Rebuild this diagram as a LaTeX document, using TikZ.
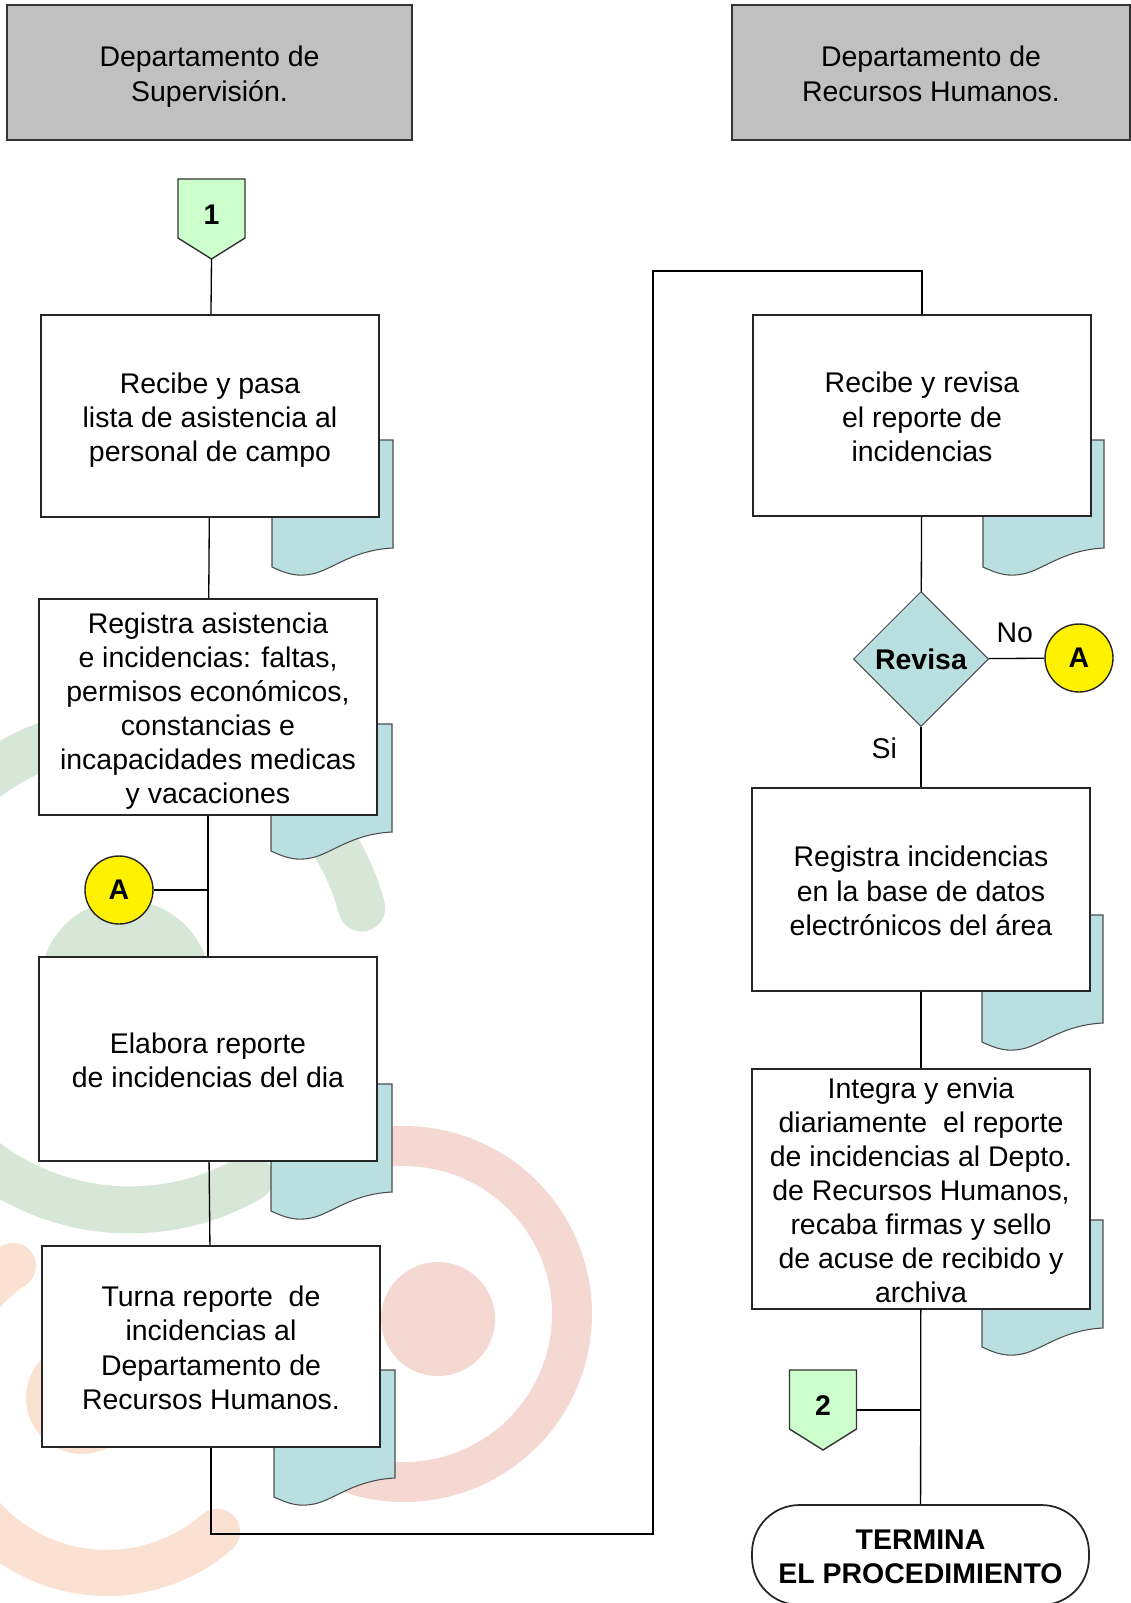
\documentclass[tikz,border=0pt]{standalone}
\usepackage{fontspec}
\setmainfont{Liberation Sans}
\usetikzlibrary{shapes.geometric,positioning}
\definecolor{hdrgray}{HTML}{C0C0C0}
\definecolor{docblue}{HTML}{B9DFE1}
\definecolor{pagegreen}{HTML}{CCFFCC}
\definecolor{wmgreen}{HTML}{D6E6D7}
\definecolor{wmred}{HTML}{F5D8D2}
\definecolor{wmpeach}{HTML}{FAE1D2}

% struts so that text sits in the middle of its box
\newcommand{\topstrut}{\rule{0pt}{16.5pt}}
\newcommand{\botstrut}{\rule[-3.4pt]{0pt}{3.4pt}}
\newcommand{\ml}[1]{\topstrut#1\botstrut}
% document symbol peeking out behind a box: left, top
\newcommand{\docshadow}[2]{%
  \path[draw=black!70, line width=0.6pt, fill=docblue]
    (#1,#2) -- (#1+121,#2) -- (#1+121,#2+108)
    .. controls (#1+80,#2+110) and (#1+60,#2+130) .. (#1+40,#2+134)
    .. controls (#1+25,#2+137) and (#1+15,#2+134) .. (#1,#2+127) -- cycle;
}
% off-page connector: name, centre x, top y, label
\newcommand{\offpage}[4]{%
  \path[draw=black!80, line width=0.8pt, fill=pagegreen]
    (#2-33.5,#3) -- (#2+33.5,#3) -- (#2+33.5,#3+59) -- (#2,#3+80) -- (#2-33.5,#3+59) -- cycle;
  \node[font=\fontsize{16.2}{19.4}\selectfont\bfseries] at (#2,#3+36) (#1) {#4};
  \coordinate (#1-tip) at (#2,#3+80);
  \coordinate (#1-east) at (#2+33.5,#3+40);
}

\begin{document}
\begin{tikzpicture}[x=0.02cm,y=-0.02cm]
    \tikzset{txt/.style={font=\fontsize{16.2}{19.4}\selectfont, align=center},
      block/.style={txt, draw=black!85, line width=1.1pt, fill=white, rectangle, minimum width=6.76cm, inner sep=0pt},
      header/.style={txt, draw=black!80, line width=1pt, fill=hdrgray, rectangle, minimum height=2.7cm},
      conn/.style={txt, font=\fontsize{16.2}{19.4}\selectfont\bfseries, draw=black!85, line width=0.8pt, fill=yellow, circle, minimum size=1.36cm, inner sep=0pt},
      decision/.style={txt, font=\fontsize{16.2}{19.4}\selectfont\bfseries, draw=black!70, line width=0.6pt, fill=docblue, diamond, minimum width=2.7cm, minimum height=2.7cm, inner sep=0pt},
      term/.style={txt, font=\fontsize{16.2}{19.4}\selectfont\bfseries, draw=black!85, line width=1pt, fill=white, rectangle, rounded corners=0.95cm, minimum width=6.74cm, minimum height=2cm},
      every edge/.style={draw=black, line width=0.75pt},
    }
    \useasboundingbox[fill=white] (0,0) rectangle (1130,1603);

    % watermark
    \begin{scope}[line cap=round]
      \draw[wmgreen, line width=0.94cm] (130,970) ++(15:4.8cm) arc[start angle=15, end angle=300, radius=4.8cm];
      \fill[wmgreen] (125,985) circle[radius=1.7cm];
      \draw[wmred, line width=0.8cm] (404,1314) ++(120:3.36cm) arc[start angle=120, end angle=-150, radius=3.36cm];
      \fill[wmred] (438,1319) circle[radius=1.14cm];
      \draw[wmpeach, line width=0.92cm] (107,1405) ++(124:3.36cm) arc[start angle=124, end angle=311, radius=3.36cm];
      \fill[wmpeach] (82,1398) circle[radius=1.12cm];
    \end{scope}

    \node[header, minimum width=8.1cm] at (209.5,72.5) (supervision) {\ml{Departamento de\\Supervisión.}};
    \node[header, minimum width=7.96cm] at (931,72.5) (rh) {\ml{Departamento de\\Recursos Humanos.}};

    \docshadow{272}{440}
    \docshadow{271}{724}
    \docshadow{271}{1084}
    \docshadow{274}{1370}
    \docshadow{983}{440}
    \docshadow{982}{915}
    \docshadow{982}{1220}

    \offpage{uno}{211.5}{179}{1}
    \offpage{dos}{823}{1370}{2}

    \node[block, minimum height=4.04cm] at (210,416) (pasalista) {\ml{Recibe y pasa\\lista de asistencia al\\personal de campo}};
    \node[block, minimum height=4.32cm] at (208,707) (registra) {\ml{Registra asistencia\\e incidencias: faltas,\\permisos económicos,\\constancias e\\incapacidades medicas\\y vacaciones}};
    \node[conn] at (119,890) (aleft) {A};
    \node[block, minimum height=4.08cm] at (208,1059) (elabora) {\ml{Elabora reporte\\de incidencias del dia}};
    \node[block, minimum height=4.02cm] at (211,1346.5) (turna) {\ml{Turna reporte\ \ de\\incidencias al\\Departamento de\\Recursos Humanos.}};

    \node[block, minimum height=4.02cm] at (922,415.5) (revisarep) {\ml{Recibe y revisa\\el reporte de\\incidencias}};
    \node[decision] at (921,659) (revisa) {Revisa};
    \node[conn] at (1079,658) (aright) {A};
    \node[block, minimum height=4.06cm] at (921,889.5) (captura) {\ml{Registra incidencias\\en la base de datos\\electrónicos del área}};
    \node[block, minimum height=4.72cm] at (921,1189) (integra) {\ml{Integra y envia\\diariamente\ \ el reporte\\de incidencias al Depto.\\de Recursos Humanos,\\recaba firmas y sello\\de acuse de recibido y\\archiva}};
    \node[term] at (920.5,1555) (termina) {\ml{TERMINA\\EL PROCEDIMIENTO}};

    \coordinate (bajo) at (653,1534);
    \coordinate (alto) at (653,271);

    \path (uno-tip) edge (pasalista);
    \path (pasalista) edge (registra);
    \path (registra) edge (elabora);
    \path (aleft) edge (aleft -| registra.south);
    \path (elabora) edge (turna);
    \draw[line width=0.75pt] (turna.south) |- (bajo) -- (alto) -| (revisarep.north);
    \path (revisarep) edge (revisa);
    \path (revisa) edge node[txt, above, yshift=5pt, xshift=-1pt] {No} (aright);
    \path (revisa) edge node[txt, left, pos=0.35, xshift=-10pt] {Si} (captura);
    \path (captura) edge (integra);
    \path (integra) edge (termina);
    \path (dos-east) edge (dos-east -| integra.south);
  \end{tikzpicture}
\end{document}
